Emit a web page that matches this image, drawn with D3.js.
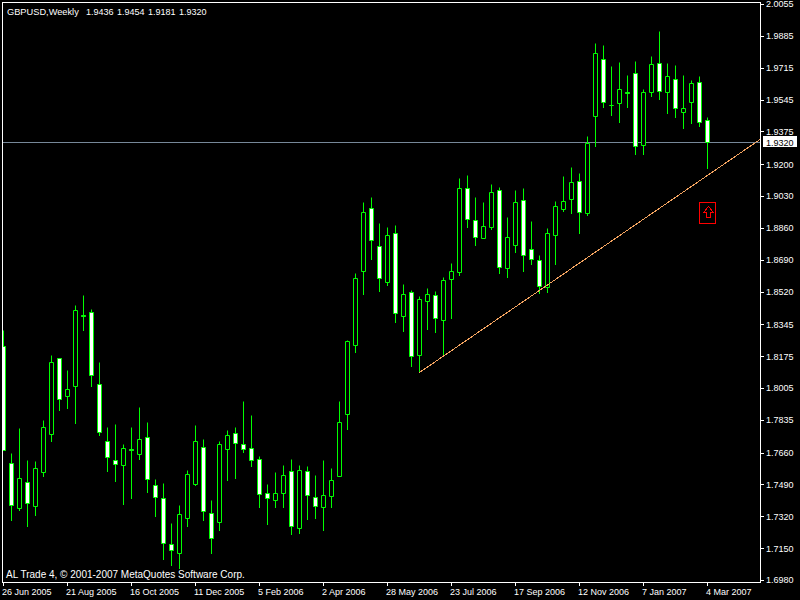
<!DOCTYPE html>
<html lang="en">
  <head>
    <meta charset="UTF-8">
    <title>GBPUSD Weekly</title>
    <script src="https://cdn.jsdelivr.net/npm/d3@7"></script>
    <style>
      html, body { margin: 0; background: #000; }
      svg { display: block; }
      text { font-family: "Liberation Sans", sans-serif; font-size: 9px; fill: #fff; }
    </style>
  </head>
  <body>
    <script>
      let w = 800;
      let h = 600;

      // Weekly bars
      let opens = [
        1.8229, 1.7604, 1.7363, 1.7502, 1.7374, 1.7556, 1.7758, 1.8164, 1.7961, 1.8015,
        1.8394, 1.8410, 1.8025, 1.7721, 1.7620, 1.7593, 1.7681, 1.7652, 1.7742, 1.7486,
        1.7417, 1.7171, 1.7123, 1.7310, 1.7491, 1.7689, 1.7337, 1.7289, 1.7678, 1.7764,
        1.7705, 1.7684, 1.7625, 1.7443, 1.7406, 1.7443, 1.7561, 1.7256, 1.7561, 1.7422,
        1.7369, 1.7427, 1.7534, 1.7865, 1.8234, 1.8629, 1.8965, 1.8762, 1.8570, 1.8832,
        1.8389, 1.8517, 1.8180, 1.8469, 1.8501, 1.8367, 1.8586, 1.8624, 1.9072, 1.8901,
        1.8805, 1.8864, 1.9061, 1.8645, 1.8768, 1.9008, 1.8746, 1.8688, 1.8543, 1.8821,
        1.8960, 1.9013, 1.9109, 1.8939, 1.9457, 1.9761, 1.9515, 1.9526, 1.9587, 1.9686,
        1.9302, 1.9585, 1.9740, 1.9585, 1.9654, 1.9478, 1.9531, 1.9638, 1.9436
      ];
      let highs = [
        1.8314, 1.7657, 1.7790, 1.7620, 1.7614, 1.7833, 1.8180, 1.8164, 1.8100, 1.8447,
        1.8501, 1.8426, 1.8143, 1.7796, 1.7812, 1.7705, 1.7796, 1.7903, 1.7823, 1.7518,
        1.7497, 1.7283, 1.7379, 1.7566, 1.7806, 1.7732, 1.7406, 1.7721, 1.7780, 1.7796,
        1.7935, 1.7860, 1.7641, 1.7491, 1.7556, 1.7593, 1.7625, 1.7593, 1.7588, 1.7539,
        1.7620, 1.7577, 1.7935, 1.8260, 1.8618, 1.8997, 1.9024, 1.8885, 1.8864, 1.8874,
        1.8559, 1.8527, 1.8495, 1.8538, 1.8522, 1.8597, 1.8672, 1.9125, 1.9141, 1.9024,
        1.8997, 1.9093, 1.9077, 1.8917, 1.9061, 1.9072, 1.8896, 1.8714, 1.8858, 1.9003,
        1.9136, 1.9184, 1.9152, 1.9350, 1.9846, 1.9836, 1.9724, 1.9745, 1.9675, 1.9750,
        1.9601, 1.9777, 1.9910, 1.9740, 1.9729, 1.9675, 1.9649, 1.9670, 1.9454
      ];
      let lows = [
        1.7673, 1.7299, 1.7353, 1.7267, 1.7326, 1.7534, 1.7721, 1.7887, 1.7897, 1.7817,
        1.8314, 1.8015, 1.7753, 1.7561, 1.7507, 1.7385, 1.7417, 1.7625, 1.7449, 1.7321,
        1.7091, 1.7059, 1.7043, 1.7267, 1.7486, 1.7299, 1.7123, 1.7246, 1.7513, 1.7523,
        1.7662, 1.7588, 1.7369, 1.7278, 1.7369, 1.7369, 1.7224, 1.7230, 1.7305, 1.7310,
        1.7246, 1.7369, 1.7534, 1.7785, 1.8196, 1.8506, 1.8693, 1.8522, 1.8554, 1.8357,
        1.8308, 1.8122, 1.8090, 1.8319, 1.8303, 1.8175, 1.8378, 1.8607, 1.8864, 1.8768,
        1.8805, 1.8853, 1.8618, 1.8597, 1.8730, 1.8629, 1.8666, 1.8511, 1.8517, 1.8666,
        1.8949, 1.8939, 1.8832, 1.8928, 1.9296, 1.9505, 1.9462, 1.9425, 1.9505, 1.9254,
        1.9254, 1.9563, 1.9547, 1.9473, 1.9451, 1.9392, 1.9419, 1.9403, 1.9181
      ];
      let closes = [
        1.7673, 1.7379, 1.7523, 1.7390, 1.7577, 1.7796, 1.8143, 1.7945, 1.7999, 1.8421,
        1.8388, 1.8073, 1.7769, 1.7636, 1.7598, 1.7684, 1.7676, 1.7732, 1.7518, 1.7422,
        1.7176, 1.7139, 1.7331, 1.7545, 1.7721, 1.7347, 1.7203, 1.7705, 1.7753, 1.7710,
        1.7678, 1.7620, 1.7438, 1.7417, 1.7443, 1.7539, 1.7267, 1.7566, 1.7433, 1.7374,
        1.7433, 1.7513, 1.7823, 1.8255, 1.8591, 1.8944, 1.8794, 1.8591, 1.8821, 1.8405,
        1.8506, 1.8175, 1.8479, 1.8506, 1.8378, 1.8581, 1.8629, 1.9072, 1.8907, 1.8810,
        1.8869, 1.9051, 1.8650, 1.8810, 1.8997, 1.8714, 1.8693, 1.8549, 1.8832, 1.8976,
        1.9003, 1.9104, 1.8944, 1.9312, 1.9793, 1.9531, 1.9515, 1.9601, 1.9582, 1.9296,
        1.9585, 1.9734, 1.9590, 1.9670, 1.9499, 1.9499, 1.9633, 1.9425, 1.9320
      ];

      let dateLabels = ['26 Jun 2005', '21 Aug 2005', '16 Oct 2005', '11 Dec 2005', '5 Feb 2006', '2 Apr 2006',
                        '28 May 2006', '23 Jul 2006', '17 Sep 2006', '12 Nov 2006', '7 Jan 2007', '4 Mar 2007'];
      let dateBars = [0, 8, 16, 24, 32, 40, 48, 56, 64, 72, 80, 88];
      let priceTicks = [2.0055, 1.9885, 1.9715, 1.9545, 1.9375, 1.9200, 1.9030, 1.8860, 1.8690, 1.8520,
                        1.8345, 1.8175, 1.8005, 1.7835, 1.7660, 1.7490, 1.7320, 1.7150, 1.6980];

      let titleText = 'GBPUSD,Weekly';
      let titleValues = ['1.9436', '1.9454', '1.9181', '1.9320'];
      let footerText = 'AL Trade 4, \u00a9 2001-2007 MetaQuotes Software Corp.';

      let lastPrice = 1.9320;
      let trendBars = [52, 94.56];
      let trendPrices = [1.8090, 1.9334];
      let arrowBar = 88;
      let arrowPrice = 1.8944;

      // Frame of the plot in pixels
      let left = 2;
      let top_ = 2;
      let right = 760;
      let bottom = 582;

      let xScale = d3.scaleLinear().domain([0, 88]).range([3, 707]);
      let yScale = d3.scaleLinear().domain([2.0055, 1.6980]).range([4, 580]);
      // MT4 draws on whole pixels
      let px = v => Math.round(v) + 0.5;

      let svg = d3.select('body')
                  .append('svg')
                  .attr('width', w)
                  .attr('height', h);

      svg.append('rect')
          .attr('width', w)
          .attr('height', h)
          .attr('fill', '#000');

      svg.append('clipPath')
          .attr('id', 'plot')
          .append('rect')
          .attr('x', left + 1)
          .attr('y', top_ + 1)
          .attr('width', right - left - 1)
          .attr('height', bottom - top_ - 1);

      let plot = svg.append('g').attr('clip-path', 'url(#plot)');

      // Current price line
      plot.append('line')
          .attr('x1', left)
          .attr('x2', right)
          .attr('y1', px(yScale(lastPrice)))
          .attr('y2', px(yScale(lastPrice)))
          .attr('stroke', '#778899');

      // Candles
      let bars = plot.selectAll('g.bar')
          .data(opens)
          .enter()
          .append('g')
          .attr('class', 'bar');

      bars.append('line')
          .attr('x1', (d, i) => xScale(i) + 0.5)
          .attr('x2', (d, i) => xScale(i) + 0.5)
          .attr('y1', (d, i) => px(yScale(highs[i])))
          .attr('y2', (d, i) => px(yScale(lows[i])) + 0.5)
          .attr('stroke', '#00ff00');

      // a path, so a bar with open == close still shows as a line
      bars.append('path')
          .attr('d', (d, i) => {
            let x0 = xScale(i) - 1.5;
            let x1 = xScale(i) + 2.5;
            let y0 = px(yScale(Math.max(opens[i], closes[i])));
            let y1 = px(yScale(Math.min(opens[i], closes[i])));
            return `M${x0},${y0}H${x1}V${y1}H${x0}Z`;
          })
          .attr('fill', (d, i) => closes[i] < opens[i] ? '#fff' : '#000')
          .attr('stroke', '#00ff00');

      // Trend line
      plot.append('line')
          .attr('x1', xScale(trendBars[0]) + 0.5)
          .attr('y1', px(yScale(trendPrices[0])))
          .attr('x2', xScale(trendBars[1]) + 0.5)
          .attr('y2', px(yScale(trendPrices[1])))
          .attr('stroke', '#f4a460')
          .attr('shape-rendering', 'crispEdges');

      // Red arrow marker
      let arrow = plot.append('g')
          .attr('transform', `translate(${xScale(arrowBar)},${Math.round(yScale(arrowPrice))})`)
          .attr('fill', 'none')
          .attr('stroke', '#ff0000');

      arrow.append('rect')
          .attr('x', -7.5)
          .attr('y', -9.5)
          .attr('width', 16)
          .attr('height', 21);

      arrow.append('path')
          .attr('d', 'M1.5,-5.5L6.5,0.5H3.5V5.5H-0.5V0.5H-3.5Z')
          .attr('shape-rendering', 'crispEdges');

      // Frame
      svg.append('rect')
          .attr('x', left + 0.5)
          .attr('y', top_ + 0.5)
          .attr('width', right - left)
          .attr('height', bottom - top_)
          .attr('fill', 'none')
          .attr('stroke', '#fff');

      // Axes
      let xAxis = d3.axisBottom(xScale)
          .tickValues(dateBars)
          .tickFormat((d, i) => dateLabels[i])
          .tickSize(3)
          .tickPadding(2);

      let gx = svg.append('g')
          .attr('transform', `translate(0,${bottom + 0.5})`)
          .call(xAxis);
      gx.select('.domain').remove();
      gx.selectAll('line').attr('stroke', '#fff').attr('shape-rendering', 'crispEdges');
      gx.selectAll('text')
          .attr('text-anchor', 'start')
          .attr('x', -1.5)
          .attr('y', 0)
          .attr('dy', 12.5)
          .attr('fill', '#fff')
          .style('font-size', '9px')
          .style('font-family', '"Liberation Sans", sans-serif');

      let yAxis = d3.axisRight(yScale)
          .tickValues(priceTicks)
          .tickFormat(d3.format('.4f'))
          .tickSize(4)
          .tickPadding(2);

      let gy = svg.append('g')
          .attr('transform', `translate(${right},0)`)
          .call(yAxis);
      gy.select('.domain').remove();
      gy.selectAll('line').attr('stroke', '#fff').attr('shape-rendering', 'crispEdges');
      gy.selectAll('text')
          .attr('fill', '#fff')
          .style('font-size', '9px')
          .style('font-family', '"Liberation Sans", sans-serif');

      // Current price tag
      let tagY = Math.round(yScale(lastPrice));
      svg.append('rect')
          .attr('x', right + 3)
          .attr('y', tagY - 6)
          .attr('width', 34)
          .attr('height', 11)
          .attr('fill', '#fff');
      svg.append('text')
          .attr('x', right + 6)
          .attr('y', tagY + 3.5)
          .style('fill', '#000')
          .text(d3.format('.4f')(lastPrice));

      // Title and footer
      svg.append('text')
          .attr('x', 7)
          .attr('y', 14.5)
          .style('font-size', '9.25px')
          .text(titleText);

      svg.selectAll('text.val')
          .data(titleValues)
          .enter()
          .append('text')
          .attr('class', 'val')
          .attr('x', (d, i) => 86 + i * 31)
          .attr('y', 14.5)
          .text(d => d);

      svg.append('text')
          .attr('x', 6)
          .attr('y', 578)
          .style('font-size', '10px')
          .text(footerText);
    </script>
  </body>
</html>
